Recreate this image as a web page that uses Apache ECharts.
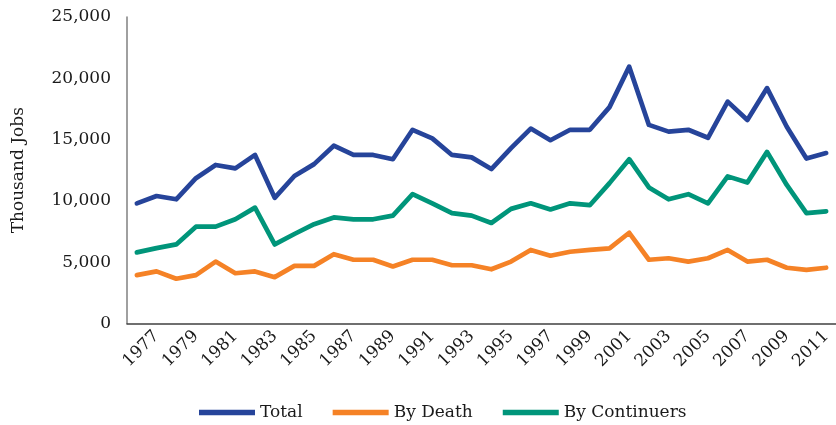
<!DOCTYPE html>
<html>
<head>
<meta charset="utf-8">
<script src="https://cdn.jsdelivr.net/npm/echarts@6/dist/echarts.min.js"></script>
<style>html,body{margin:0;padding:0;background:#fff}#c{width:836px;height:425px}</style>
</head>
<body>
<div id="c"></div>
<script>
const years = ['1976','1977','1978','1979','1980','1981','1982','1983','1984','1985','1986','1987','1988','1989','1990','1991','1992','1993','1994','1995','1996','1997','1998','1999','2000','2001','2002','2003','2004','2005','2006','2007','2008','2009','2010','2011'];
const total = [9800,10400,10130,11850,12930,12650,13750,10250,12030,13000,14500,13750,13750,13400,15800,15100,13750,13550,12600,14300,15900,14950,15800,15800,17650,20950,16200,15650,15800,15150,18100,16600,19200,16050,13450,13900];
const byDeath = [3950,4250,3650,3950,5050,4100,4250,3780,4700,4700,5650,5200,5200,4650,5200,5200,4750,4750,4420,5050,6000,5530,5850,6000,6130,7400,5200,5320,5050,5320,6000,5050,5200,4550,4370,4550];
const byContinuers = [5800,6150,6450,7900,7900,8500,9450,6450,7300,8100,8650,8500,8500,8800,10550,9800,9000,8800,8200,9350,9800,9300,9800,9650,11450,13400,11100,10130,10550,9800,12000,11500,14000,11300,9000,9150];
const seriesNames = ['Total','By Death','By Continuers'];
const yTicks = {min:0, max:25000, interval:5000};

const FONT = '"DejaVu Serif", serif';
const colors = ['#26449a','#f58226','#00957a'];
const chart = echarts.init(document.getElementById('c'), null, {renderer:'canvas'});
function mk(name, data, color){
  return {name, type:'line', data, showSymbol:false, symbol:'none', color,
    lineStyle:{width:4.7, color, cap:'round', join:'round'}, animation:false};
}
chart.setOption({
  animation:false,
  textStyle:{fontFamily:FONT},
  grid:{left:127, right:-5, top:17, bottom:101.5, containLabel:false},
  legend:{left:194, top:399, itemWidth:56, itemHeight:14, itemGap:30,
    textStyle:{fontFamily:FONT, fontSize:17, color:'#1a1a1a'},
    data:seriesNames.map((n,i)=>({name:n, icon:'path://M0,0 L10,0 L10,1 L0,1 Z', itemStyle:{color:colors[i]}}))},
  xAxis:{type:'category', data:years, boundaryGap:true,
    axisLine:{lineStyle:{color:'#404040', width:1.5}},
    axisTick:{show:false},
    axisLabel:{interval:(i)=> i%2===1, rotate:45, margin:10, fontFamily:FONT, fontSize:17, color:'#1a1a1a'}},
  yAxis:{type:'value', min:yTicks.min, max:yTicks.max, interval:yTicks.interval,
    name:'Thousand Jobs', nameLocation:'middle', nameGap:100,
    nameTextStyle:{fontFamily:FONT, fontSize:17, color:'#1a1a1a'},
    axisLine:{show:true, lineStyle:{color:'#808080', width:1.5}},
    axisTick:{show:false}, splitLine:{show:false},
    axisLabel:{margin:16, fontFamily:FONT, fontSize:17, color:'#1a1a1a',
      formatter:(v)=>v.toLocaleString('en-US')}},
  series:[mk(seriesNames[0], total, colors[0]), mk(seriesNames[1], byDeath, colors[1]), mk(seriesNames[2], byContinuers, colors[2])]
});
</script>
</body>
</html>
